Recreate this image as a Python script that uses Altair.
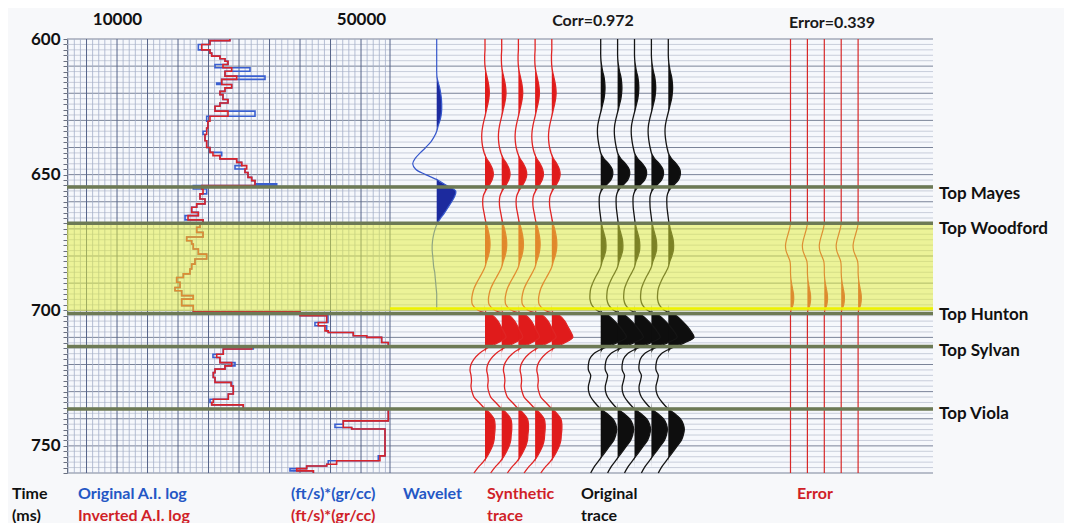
import altair as alt
import pandas as pd

# ------------------------------------------------------------------ data
# Acoustic-impedance logs (step curves): value holds from LOG_T[i] to LOG_T[i+1]
LOG_T = [600, 600.6, 602, 604, 605.2, 606.3, 607.3, 608.2, 609.4, 610.6,
         611.9, 613.7, 614.9, 616.2, 616.8, 618, 619.3, 620.5, 622.3, 623.6,
         624.8, 626.6, 628.5, 630.3, 632.8, 634, 635.2, 637.5, 640, 641.8,
         643, 644.2, 645.5, 646.7, 647.9, 649.2, 651, 652.2, 653.4, 654,
         655.3, 657.1, 659, 660.8, 662, 663.9, 665.1, 666.7, 668.2, 669.4,
         671.3, 673, 674.4, 675.6, 677.4, 679.3, 681.1, 683, 684.8, 686.6,
         687.9, 689.7, 691.6, 692.8, 694.6, 695.9, 698.3, 700.6, 702, 704.5,
         705.7, 707.6, 708.2, 709.4, 710, 711.9, 713.2, 714.3, 716.2, 717.4,
         719.3, 720.5, 721.7, 723, 724.8, 726.6, 727.9, 730.9, 732.8, 734,
         734.9, 736.6, 740.8, 742, 743.2, 743.8, 753.7, 755.5, 756.8, 757.4,
         758.4, 759.2, 760]
LOG_INVERTED = [28500, 25240, 23880, 25240, 25520, 26880, 27700, 28190, 27370, 28800,
                27700, 29620, 27160, 27160, 28800, 27700, 26880, 27370, 28190, 26880,
                26060, 28190, 25240, 24900, 24700, 24700, 24420, 24700, 25240, 25730,
                26880, 29620, 30440, 31260, 30980, 31470, 32080, 32620, 32620, 23880,
                24100, 23600, 24420, 23060, 22240, 23330, 21640, 24100, 23600, 23060,
                24100, 21420, 22240, 22500, 23330, 24700, 22780, 22240, 21960, 20870,
                19780, 20330, 19510, 20600, 22500, 20600, 22500, 40000, 44370, 42990,
                44090, 44630, 48730, 50930, 53380, 54470, 32080, 27420, 26340, 26880,
                28800, 27700, 26060, 25780, 26060, 28690, 29060, 28240, 25780, 25520,
                30700, 54470, 47090, 47090, 48470, 53930, 53100, 46000, 44370, 41090,
                39450, 42190, 42190]
LOG_ORIGINAL = [28500, 25240, 23330, 25240, 25520, 26880, 27700, 28190, 26060, 31800,
                27700, 34260, 27160, 26340, 28800, 27700, 26880, 27370, 28190, 26880,
                26060, 32620, 24700, 24900, 24700, 24100, 24420, 24700, 25240, 27160,
                26880, 29620, 30440, 29340, 30980, 31470, 32080, 32620, 36180, 22500,
                24700, 23600, 24420, 23060, 22240, 23330, 21150, 24100, 23600, 23060,
                24100, 21420, 22240, 22500, 23330, 24700, 22780, 22240, 21960, 20870,
                19780, 20330, 19510, 20600, 22500, 20600, 22500, 40000, 44580, 42450,
                44370, 44630, 48730, 50930, 53380, 54470, 32340, 27420, 25730, 26880,
                29340, 27700, 26060, 25780, 26060, 28800, 29060, 28240, 25240, 25520,
                30700, 54470, 47090, 45730, 48470, 53930, 52830, 44630, 44370, 41090,
                38350, 42190, 42190]

# Seismic traces sampled every 2 ms (amplitude, display units)
TRACE_T = list(range(600, 761, 2))
SYNTHETIC = [0, 0, 0, -0.3, -0.3, 0, 0.8, 2.0, 3.2, 4.0,
             4.3, 3.8, 2.8, 1.5, 0.3, -1.0, -2.2, -3.0, -3.3, -3.0,
             -2.2, -0.8, 1.5, 5.0, 7.5, 8.3, 7.0, 4.0, 0.5, -1.8,
             -2.3, -2.0, -1.0, 0.0, 1.2, 2.8, 4.0, 4.8, 5.0, 4.5,
             3.3, 1.5, 0, -2.5, -5.5, -8.5, -11, -12.5, -13.3, -12.5,
             -7, 8, 13, 16, 19, 21, 13, 2, -6, -11,
             -14, -15, -14, -13.5, -14, -13, -11, -6, -1, 5,
             9, 10, 10, 9.5, 9, 7.5, 5, 2, -2, -7,
             -11]
ORIGINAL = [0, 0, 0, 0, 0.3, 1.0, 2.0, 3.3, 4.0, 4.3,
            4.0, 3.3, 2.0, 0.7, -0.7, -2.0, -3.0, -3.3, -3.0, -2.3,
            -1.3, 0, 3.0, 8.0, 11.5, 12.0, 10.0, 5.0, 0.5, -1.3,
            -1.5, -1.3, -0.7, 0, 0.8, 2.0, 3.5, 4.8, 5.3, 5.0,
            3.5, 1.5, 0, -2.5, -5.5, -8, -10, -10.7, -10.7, -9,
            -4, 8, 14, 19, 23, 25.7, 16, 3, -7, -11,
            -12.3, -12.3, -10, -11, -12.3, -12, -10, -6, -1, 6,
            12, 15, 16, 15, 13, 9, 5, 1, -3, -7,
            -10]
ERROR = [0, 0, 0, 0, 0, 0, 0, 0, 0, 0,
         0, 0, 0, 0, 0, 0, 0, 0, 0, 0,
         0, 0, 0, 0, 0, 0, 0, 0, 0, 0,
         0, 0, 0, 0, 0, -1, -2.5, -4, -5, -4.5,
         -2.5, -0.5, 0, 0, 0.3, 1, 2, 3, 3.2, 2.5,
         0.5, 0, 0, 0, 0, 0, 0, 0, 0, 0,
         0, 0, 0, 0, 0, 0, 0, 0, 0, 0,
         0, 0, 0, 0, 0, 0, 0, 0, 0, 0,
         0]
WAVELET_T = list(range(600, 701, 2))
WAVELET = [0, 0, 0, 0, 0, 0, 0, 0.3, 1.5, 3,
           4, 4.7, 5, 5, 4.5, 3.3, 1.5, 0, -2.5, -6,
           -11, -16.5, -21.5, -24, -21, -11, 1, 10, 19, 18,
           15, 11.5, 8, 4, 0.5, -1.5, -3, -4, -4.5, -4.5,
           -4, -3.5, -3, -2, -1.5, -1, -0.5, 0, 0, 0,
           0]

HORIZON_NAMES = ["Top Mayes", "Top Woodford", "Top Hunton", "Top Sylvan", "Top Viola"]
HORIZON_T = [654.6, 667.9, 701.2, 713.4, 736.4]
HORIZON_LABEL_T = [657.0, 670.0, 701.6, 715.0, 738.3]
ZONE_TOP, ZONE_BASE = 668.4, 700.3   # highlighted Woodford interval

AI_TICKS = [10000, 50000]
CORR_TEXT = "Corr=0.972"
ERROR_TEXT = "Error=0.339"

assert len(LOG_T) == len(LOG_INVERTED) == len(LOG_ORIGINAL)
assert len(TRACE_T) == len(SYNTHETIC) == len(ORIGINAL) == len(ERROR)
assert len(WAVELET_T) == len(WAVELET)

# ------------------------------------------------------------------ layout
W, H = 866, 434
LOG_TRACK_W = 323
AI_DOMAIN = [1800, 54750]
WAVELET_BASE = 369.7
SYN_BASE, SYN_STEP = 418.0, 16.7
ORG_BASE, ORG_STEP = 533.7, 16.9
ERR_BASE, ERR_STEP = 723.5, 16.9
N_REP = 5
LABEL_X = 872

BLUE = "#2457c5"
RED = "#d01f28"
BLACK = "#111111"

YAXIS = alt.Axis(values=list(range(600, 761, 2)),
                 labelExpr="datum.value % 50 === 0 ? datum.label : ''",
                 labelFontSize=17, labelFontWeight="bold", labelColor="#111",
                 labelPadding=3, labelOverlap=False, labelFlush=False, labelBound=False,
                 tickSize=4, tickColor="#6a7080", domainColor="#555c6c",
                 grid=False, title=None)
AIAXIS = alt.Axis(orient="top", values=AI_TICKS, format="d", labelFontSize=17,
                  labelFontWeight="bold", labelColor="#111", ticks=False, tickSize=0,
                  domain=False, grid=False, title=None, labelPadding=11, labelFlush=False)


def yscale():
    return alt.Scale(domain=[600, 760], reverse=True, nice=False, zero=False)


def du_scale():
    return alt.Scale(domain=[0, W], nice=False, zero=False)


def ai_scale():
    return alt.Scale(domain=AI_DOMAIN, range=[0, LOG_TRACK_W], nice=False, zero=False)


def Y(f="t"):
    # every layer carries the identical shared y axis so that the merge keeps it
    return alt.Y(f"{f}:Q", scale=yscale(), axis=YAXIS)


def XD(f):
    return alt.X(f"{f}:Q", scale=du_scale(), axis=None)


def XA(f):
    return alt.X(f"{f}:Q", scale=ai_scale(), axis=None)


def trace_table(name, times, amps, base0, step, n):
    rows = []
    for i in range(n):
        b = base0 + i * step
        for t, a in zip(times, amps):
            rows.append({"trace": f"{name}{i}", "t": t, "base": b,
                         "x": b + a, "xf": b + max(a, 0.0)})
    return pd.DataFrame(rows)


syn_df = trace_table("s", TRACE_T, SYNTHETIC, SYN_BASE, SYN_STEP, N_REP)
org_df = trace_table("o", TRACE_T, ORIGINAL, ORG_BASE, ORG_STEP, N_REP)
err_df = trace_table("e", TRACE_T, ERROR, ERR_BASE, ERR_STEP, N_REP)
wav_df = trace_table("w", WAVELET_T, WAVELET, WAVELET_BASE, 0, 1)

log_df = pd.DataFrame({"t": LOG_T, "orig": LOG_ORIGINAL, "inv": LOG_INVERTED})

hgrid = pd.DataFrame({"t": list(range(600, 761, 2))})
hgrid["major"] = hgrid["t"] % 10 == 0
vgrid = pd.DataFrame({"v": list(range(2000, 54001, 1000)) + [AI_DOMAIN[1]]})
vgrid["major"] = (vgrid["v"] % 5000 == 0) | (vgrid["v"] == AI_DOMAIN[1])

hor_df = pd.DataFrame({"name": HORIZON_NAMES, "t": HORIZON_T, "lt": HORIZON_LABEL_T,
                       "x": [LABEL_X] * len(HORIZON_NAMES)})
zone_df = pd.DataFrame({"t0": [ZONE_TOP], "t1": [ZONE_BASE]})
zline_df = pd.DataFrame({"t": [ZONE_BASE - 0.9], "x0": [LOG_TRACK_W]})

top_df = pd.DataFrame({"text": [CORR_TEXT, ERROR_TEXT], "x": [526, 765], "y": [-18, -16]})
bottom_df = pd.DataFrame({
    "text": ["Time", "(ms)", "Original A.I. log", "Inverted A.I. log",
             "(ft/s)*(gr/cc)", "(ft/s)*(gr/cc)", "Wavelet", "Synthetic", "trace",
             "Original", "trace", "Error"],
    "color": [BLACK, BLACK, BLUE, RED, BLUE, RED, BLUE, RED, RED, BLACK, BLACK, RED],
    "x": [-55, -55, 11, 11, 224, 224, 336, 420, 420, 514, 514, 730],
    "y": [455, 477, 455, 477, 455, 477, 455, 455, 477, 455, 477, 455],
})

layers = []
# horizontal grid
layers.append(alt.Chart(hgrid).transform_filter("!datum.major")
              .mark_rule(color="#bcc3d2", strokeWidth=0.8).encode(y=Y()))
layers.append(alt.Chart(hgrid).transform_filter("datum.major")
              .mark_rule(color="#7a8398", strokeWidth=1).encode(y=Y()))
# log-track vertical grid
layers.append(alt.Chart(vgrid).transform_filter("!datum.major")
              .mark_rule(color="#a3aec9", strokeWidth=0.8).encode(x=XA("v")))
layers.append(alt.Chart(vgrid).transform_filter("datum.major")
              .mark_rule(color="#56648a", strokeWidth=1).encode(x=XA("v")))
# logs (the original log carries the top impedance axis)
layers.append(alt.Chart(log_df).mark_line(interpolate="step-before", color="#3a5fd0", strokeWidth=1.6)
              .encode(x=alt.X("orig:Q", scale=ai_scale(), axis=AIAXIS), y=Y(), order="t:Q"))
layers.append(alt.Chart(log_df).mark_line(interpolate="step-before", color="#d8242a", strokeWidth=1.6)
              .encode(x=XA("inv"), y=Y(), order="t:Q"))


def wiggle(df, fill, line, lw):
    area = alt.Chart(df).mark_area(orient="horizontal", interpolate="catmull-rom", color=fill).encode(
        x=alt.X("xf:Q", scale=du_scale(), axis=None, stack=None), x2="base:Q", y=Y(), detail="trace:N")
    ln = alt.Chart(df).mark_line(interpolate="catmull-rom", color=line, strokeWidth=lw).encode(
        x=XD("x"), y=Y(), detail="trace:N", order="t:Q")
    return [area, ln]


layers += wiggle(wav_df, "#1c2a9e", "#3758cc", 1.2)
layers += wiggle(syn_df, "#e01b1b", "#e02525", 1.3)
layers += wiggle(org_df, "#0e0e0e", "#151515", 1.3)
layers += wiggle(err_df, "#d82020", "#d82828", 1.2)
layers += [
    alt.Chart(zone_df).mark_rect(color="#e2ee3c", opacity=0.52)
    .encode(y=Y("t0"), y2="t1:Q", x=alt.value(0), x2=alt.value("width")),
    alt.Chart(zline_df).mark_rule(color="#eef200", strokeWidth=2.5)
    .encode(y=Y(), x=XD("x0"), x2=alt.value("width")),
    alt.Chart(hor_df).mark_rule(color="#6d7a55", strokeWidth=3.5).encode(y=Y()),
    alt.Chart(hor_df).mark_text(align="left", baseline="middle", fontSize=17,
                                fontWeight="bold", color="#111")
    .encode(x=XD("x"), y=Y("lt"), text="name:N"),
    alt.Chart(top_df).mark_text(align="center", baseline="middle", fontSize=16,
                                fontWeight="bold", color="#1a1a1a")
    .encode(x=XD("x"), y=alt.Y("y:Q", scale=None), text="text:N"),
    alt.Chart(bottom_df).mark_text(align="left", baseline="middle", fontSize=16, fontWeight="bold")
    .encode(x=XD("x"), y=alt.Y("y:Q", scale=None), text="text:N",
            color=alt.Color("color:N", scale=None)),
]

chart = (
    alt.layer(*layers)
    .resolve_scale(x="independent")
    .properties(width=W, height=H, autosize="none",
                padding={"left": 59, "top": 31, "right": 131, "bottom": 50},
                background="#f7f8fa")
    .configure(font="Lato")
    .configure_view(stroke=None, fill="#f6f8fc")
)

chart.save("out.html", embed_options={"renderer": "svg", "actions": False})
